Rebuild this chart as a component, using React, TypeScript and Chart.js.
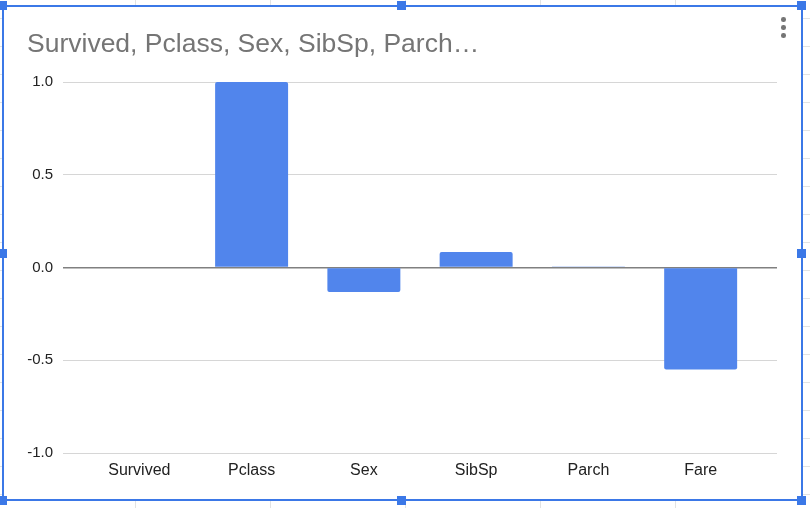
import React, { useEffect, useRef } from 'react';
import { Chart, registerables } from 'chart.js';

Chart.register(...registerables);

const TITLE = 'Survived, Pclass, Sex, SibSp, Parch…';
const categories = ['Survived', 'Pclass', 'Sex', 'SibSp', 'Parch', 'Fare'];
const values = [0, 1.0, -0.132, 0.083, 0.006, -0.55];
const yTicks = [-1.0, -0.5, 0.0, 0.5, 1.0];

const FONT = "'Liberation Sans', Arial, Helvetica, sans-serif";
const SHEET_COLS = [135, 270, 405, 540, 675];
const SHEET_ROWS = Array.from({ length: 18 }, (_, k) => 18 + 28 * k);

const HANDLE_COLOR = '#3b78e7';

function Handle({ x, y }: { x: number; y: number }) {
  return (
    <div
      style={{
        position: 'absolute',
        left: x - 4.5,
        top: y - 4.5,
        width: 9,
        height: 9,
        background: HANDLE_COLOR,
      }}
    />
  );
}

export default function App() {
  const ref = useRef<HTMLCanvasElement>(null);

  useEffect(() => {
    const canvas = ref.current;
    if (!canvas) return;
    const chart = new Chart(canvas, {
      type: 'bar',
      data: {
        datasets: [
          {
            data: values.map((v, i) => ({ x: i, y: v })),
            backgroundColor: '#5185ec',
            borderRadius: 2,
            barPercentage: 0.65,
            categoryPercentage: 1,
          },
        ],
      },
      options: {
        animation: false,
        responsive: false,
        maintainAspectRatio: false,
        layout: { padding: { left: 27, right: 33, top: 0, bottom: 0 } },
        plugins: {
          legend: { display: false },
          tooltip: { enabled: false },
          title: {
            display: true,
            text: TITLE,
            align: 'start',
            color: '#757575',
            font: { family: FONT, size: 26.5, weight: 'normal' },
            padding: { top: 28.5, bottom: 21.7 },
          },
        },
        scales: {
          x: {
            type: 'linear',
            offset: false,
            min: -0.68,
            max: 5.68,
            afterBuildTicks: (s: any) => {
              s.ticks = categories.map((_, i) => ({ value: i }));
            },
            afterFit: (s: any) => {
              s.height = 55;
            },
            grid: { display: false, drawTicks: false, offset: false },
            border: { display: false },
            ticks: {
              callback: (v: any) => categories[Number(v)] ?? '',
              font: { family: FONT, size: 16 },
              color: '#222222',
              padding: 8,
              autoSkip: false,
              maxRotation: 0,
            },
          },
          y: {
            min: -1,
            max: 1,
            afterBuildTicks: (s: any) => {
              s.ticks = yTicks.map((v) => ({ value: v }));
            },
            afterFit: (s: any) => {
              s.width = 36;
            },
            grid: {
              drawTicks: false,
              color: (c: any) => (c.tick && c.tick.value === 0 ? '#808080' : '#d6d6d6'),
              lineWidth: (c: any) => (c.tick && c.tick.value === 0 ? 1.5 : 1),
            },
            border: { display: false },
            ticks: {
              callback: (v: any) => Number(v).toFixed(1),
              font: { family: FONT, size: 15 },
              color: '#222222',
              padding: 10,
            },
          },
        },
      },
    });
    return () => chart.destroy();
  }, []);

  const handles = [
    [2.5, 5.5], [401.5, 5.5], [801.5, 5.5],
    [2.5, 253], [801.5, 253],
    [2.5, 500.5], [401.5, 500.5], [801.5, 500.5],
  ];

  return (
    <div
      style={{
        position: 'fixed',
        left: 0,
        top: 0,
        width: 810,
        height: 508,
        background: '#ffffff',
        overflow: 'hidden',
      }}
    >
      {SHEET_COLS.map((x) => (
        <div key={'c' + x} style={{ position: 'absolute', left: x, top: 0, width: 1, height: 508, background: '#e2e3e3' }} />
      ))}
      {SHEET_ROWS.map((y) => (
        <div key={'r' + y} style={{ position: 'absolute', left: 0, top: y, width: 810, height: 1, background: '#e2e3e3' }} />
      ))}
      <div
        style={{
          position: 'absolute',
          left: 2,
          top: 5,
          width: 797,
          height: 492,
          background: '#ffffff',
          border: '2px solid ' + HANDLE_COLOR,
        }}
      />
      <canvas ref={ref} width={810} height={508} style={{ position: 'absolute', left: 0, top: 0, width: 810, height: 508 }} />
      {[19.3, 27.3, 35.3].map((y) => (
        <div
          key={'d' + y}
          style={{ position: 'absolute', left: 783.3 - 2.3, top: y - 2.3, width: 4.6, height: 4.6, borderRadius: '50%', background: '#757575' }}
        />
      ))}
      {handles.map(([x, y]) => (
        <Handle key={x + '-' + y} x={x} y={y} />
      ))}
    </div>
  );
}
